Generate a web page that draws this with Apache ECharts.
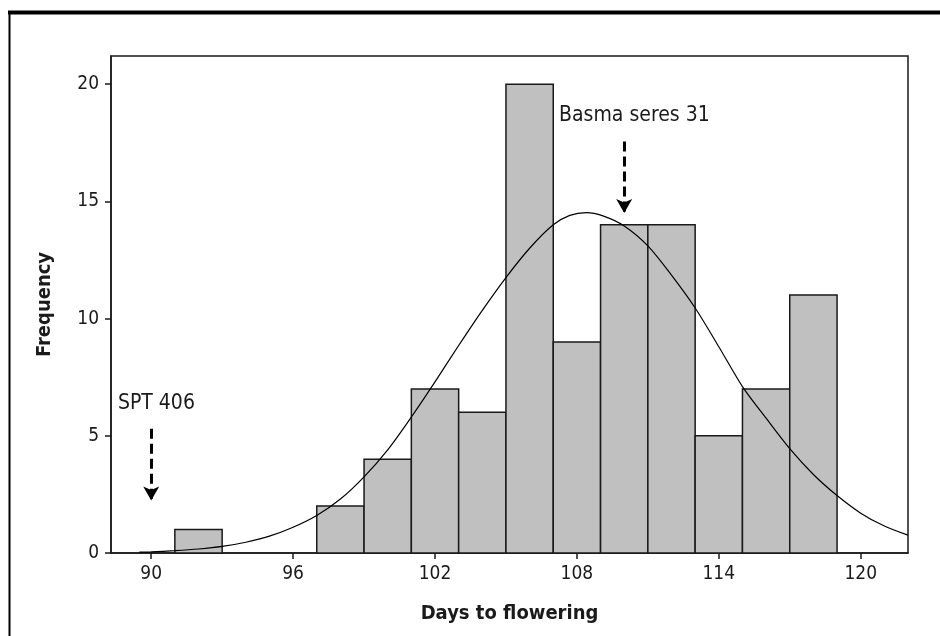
<!DOCTYPE html>
<html>
<head>
<meta charset="utf-8">
<script src="https://cdn.jsdelivr.net/npm/echarts@6/dist/echarts.min.js"></script>
<style>
  html, body { margin: 0; padding: 0; background: #fff; }
  #chart { width: 940px; height: 636px; }
</style>
</head>
<body>
<div id="chart"></div>
<script>
// histogram bins (centre of each 2-day bin) and counts
var binCenters = [92, 94, 96, 98, 100, 102, 104, 106, 108, 110, 112, 114, 116, 118];
var binCounts = [1, 0, 0, 2, 4, 7, 6, 20, 9, 14, 14, 5, 7, 11];
var binWidth = 2;

// fitted normal curve
var curveX = [89.5, 90, 91, 92, 93, 94, 95, 96, 97, 98, 99, 100, 101, 102, 103, 104, 105,
  106, 107, 107.7, 108.4, 109.1, 110, 111, 112, 113, 114, 115, 116, 117, 118, 119, 120, 121, 122];
var curveY = [0.04, 0.05, 0.1, 0.17, 0.28, 0.46, 0.72, 1.1, 1.6, 2.3, 3.25, 4.4, 5.8, 7.3, 8.85, 10.35, 11.75,
  13.0, 14.0, 14.4, 14.52, 14.38, 13.95, 13.1, 11.85, 10.45, 8.8, 7.1, 5.75, 4.45, 3.35, 2.45, 1.7, 1.15, 0.76];

var xTicks = [90, 96, 102, 108, 114, 120];
var yTicks = [0, 5, 10, 15, 20];

// annotation arrows and labels
var notes = [
  { text: 'SPT 406', x: 90, labelY: 6.37, from: 5.3, to: 2.24, labelX: 90.22 },
  { text: 'Basma seres 31', x: 110, labelY: 18.66, from: 17.55, to: 14.5, labelX: 110.43 }
];

var FONT = '"DejaVu Sans Condensed", "DejaVu Sans", sans-serif';
var INK = '#1a1a1a';

var histData = binCenters.map(function (c, i) { return [c - binWidth / 2, c + binWidth / 2, binCounts[i]]; });
var curveData = curveX.map(function (x, i) { return [x, curveY[i]]; });

var chart = echarts.init(document.getElementById('chart'));

var option = {
  animation: false,
  backgroundColor: '#fff',
  grid: {
    left: 111, right: 32, top: 56, bottom: 83,
    show: true, borderColor: INK, borderWidth: 1.5, backgroundColor: 'transparent'
  },
  xAxis: {
    type: 'value', min: 88.3, max: 122,
    name: 'Days to flowering', nameLocation: 'middle', nameGap: 51,
    nameTextStyle: { fontFamily: FONT, fontWeight: 'bold', fontSize: 20, color: INK },
    axisLine: { lineStyle: { color: INK, width: 1.5 } },
    axisTick: { length: 6, lineStyle: { color: INK, width: 1.5 }, customValues: xTicks },
    axisLabel: { fontFamily: FONT, fontSize: 19, color: INK, margin: 12, customValues: xTicks },
    splitLine: { show: false }
  },
  yAxis: {
    type: 'value', min: 0, max: 21.2, interval: 5,
    name: 'Frequency', nameLocation: 'middle', nameGap: 56, nameRotate: 90,
    nameTextStyle: { fontFamily: FONT, fontWeight: 'bold', fontSize: 20, color: INK },
    axisLine: { show: true, lineStyle: { color: INK, width: 1.5 } },
    axisTick: { show: true, length: 6, lineStyle: { color: INK, width: 1.5 }, customValues: yTicks },
    axisLabel: { fontFamily: FONT, fontSize: 19, color: INK, margin: 12, customValues: yTicks },
    splitLine: { show: false }
  },
  graphic: [
    { type: 'line', shape: { x1: 8, y1: 12.5, x2: 940, y2: 12.5 }, style: { stroke: '#000', lineWidth: 4 } },
    { type: 'line', shape: { x1: 9.5, y1: 11, x2: 9.5, y2: 636 }, style: { stroke: '#000', lineWidth: 2 } }
  ],
  series: [
    {
      type: 'custom',
      data: histData,
      renderItem: function (params, api) {
        if (api.value(2) <= 0) return null;
        var p0 = api.coord([api.value(0), 0]);
        var p1 = api.coord([api.value(1), api.value(2)]);
        return {
          type: 'rect',
          shape: { x: p0[0], y: p1[1], width: p1[0] - p0[0], height: p0[1] - p1[1] },
          style: { fill: '#c0c0c0', stroke: INK, lineWidth: 1.5 }
        };
      },
      z: 2
    },
    {
      type: 'line',
      data: curveData,
      smooth: 0.3,
      symbol: 'none',
      lineStyle: { color: '#000', width: 1.2 },
      z: 3,
      markLine: {
        silent: true,
        symbol: ['none', 'arrow'],
        symbolSize: [12, 14],
        label: { show: false },
        lineStyle: { color: '#000', width: 3, type: [10, 5] },
        data: notes.map(function (n) {
          return [{ coord: [n.x, n.from] }, { coord: [n.x, n.to] }];
        })
      }
    },
    {
      type: 'scatter',
      symbolSize: 0,
      itemStyle: { opacity: 1 },
      data: notes.map(function (n) { return { value: [n.labelX, n.labelY], name: n.text }; }),
      label: {
        show: true, position: 'inside', formatter: '{b}',
        fontFamily: FONT, fontSize: 21, color: INK, opacity: 1
      },
      z: 4
    }
  ]
};

chart.setOption(option);
</script>
</body>
</html>
